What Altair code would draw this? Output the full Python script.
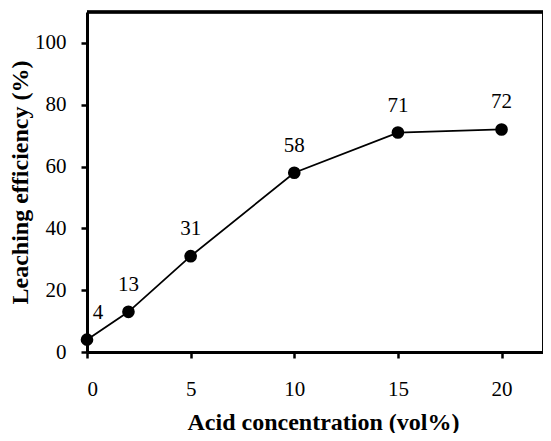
import altair as alt
import pandas as pd

acid = [0, 2, 5, 10, 15, 20]
leaching = [4, 13, 31, 58, 71, 72]
labels = ["4", "13", "31", "58", "71", "72"]
x_ticks = [0, 5, 10, 15, 20]
y_ticks = [0, 20, 40, 60, 80, 100]

df = pd.DataFrame({"acid": acid, "leach": leaching, "label": labels})

W, H = 456, 340
FONT = "Times New Roman, Liberation Serif, serif"

x = alt.X("acid:Q", scale=alt.Scale(domain=[0, 22], nice=False, zero=False),
          axis=alt.Axis(title="Acid concentration (vol%)", values=x_ticks, grid=False,
                        domainWidth=3, domainColor="black", tickColor="black", tickWidth=2.5,
                        tickSize=6, labelFont=FONT, labelFontSize=21, labelColor="black",
                        labelBaseline="alphabetic", labelPadding=37,
                        titleFont=FONT, titleFontSize=24, titleFontWeight="bold",
                        titleColor="black", titleBaseline="alphabetic", titleY=77,
                        titleX=W / 2 + 8))
y = alt.Y("leach:Q", scale=alt.Scale(domain=[0, 110], nice=False),
          axis=alt.Axis(title="Leaching efficiency (%)", values=y_ticks, grid=False,
                        domainWidth=3, domainColor="black", tickColor="black", tickWidth=2.5,
                        tickSize=6, labelFont=FONT, labelFontSize=21, labelColor="black",
                        labelPadding=15, titleFont=FONT, titleFontSize=24, titleFontWeight="bold",
                        titleColor="black", titleX=-55))

base = alt.Chart(df)
line = base.mark_line(color="black", strokeWidth=1.8).encode(x=x, y=y)
pts = base.mark_point(filled=True, color="black", size=160, opacity=1).encode(x=x, y=y)
txt = base.transform_filter("datum.acid > 0").mark_text(
    font=FONT, fontSize=21, color="black", baseline="alphabetic", dy=-21
).encode(x=x, y=y, text="label:N")
txt0 = base.transform_filter("datum.acid == 0").mark_text(
    font=FONT, fontSize=21, color="black", baseline="alphabetic", dy=-21, dx=11
).encode(x=x, y=y, text="label:N")

top = alt.Chart(df).mark_rule(color="black", strokeWidth=2.5).encode(
    x=alt.value(0), x2=alt.value(W), y=alt.value(0))
right = alt.Chart(df).mark_rule(color="black", strokeWidth=1).encode(
    x=alt.value(W), y=alt.value(0), y2=alt.value(H))

chart = alt.layer(line, pts, txt, txt0, top, right).properties(
    width=W, height=H,
    autosize=alt.AutoSizeParams(type="none"),
    padding={"left": 79, "top": 4, "right": 0, "bottom": 81},
).configure_view(stroke=None).configure(background="white")

chart.save("out.html", embed_options={"renderer": "svg", "actions": False})
